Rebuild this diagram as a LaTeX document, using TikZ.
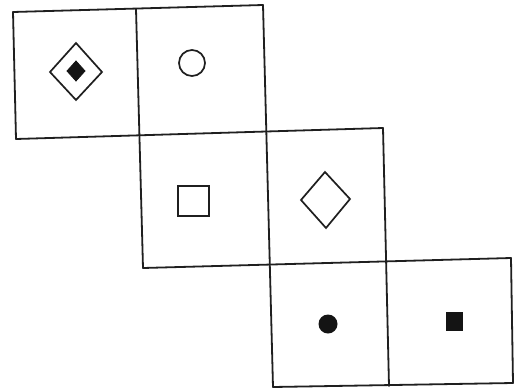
\documentclass[tikz,border=0pt]{standalone}
\begin{document}
\begin{tikzpicture}[x=1pt,y=-1pt,
  edge/.style={line width=1.8pt,draw=black!88,line cap=round,line join=miter},
  glyph/.style={line width=1.7pt,draw=black!88},
  blob/.style={fill=black!92,draw=black!92,line width=0.8pt}]
\useasboundingbox[fill=white] (0,0) rectangle (514,389);
% grid corner coordinates
\coordinate (a1) at (13,12);  \coordinate (a2) at (16,139);
\coordinate (b1) at (136,9);  \coordinate (b2) at (143,268);
\coordinate (c1) at (263,5);  \coordinate (c2) at (273,387);
\coordinate (d1) at (383,128); \coordinate (d2) at (389,386);
\coordinate (e1) at (511,258); \coordinate (e2) at (513,383);
\coordinate (h1) at (16,139); \coordinate (h2) at (383,128);
\coordinate (g1) at (143,268); \coordinate (g2) at (511,258);
\coordinate (f1) at (273,387); \coordinate (f2) at (513,383);
% outlines
\draw[edge] (a1) -- (c1);
\draw[edge] (a1) -- (a2);
\draw[edge] (b1) -- (b2);
\draw[edge] (c1) -- (c2);
\draw[edge] (d1) -- (d2);
\draw[edge] (e1) -- (e2);
\draw[edge] (h1) -- (h2);
\draw[edge] (g1) -- (g2);
\draw[edge] (f1) -- (f2);
% face 1: diamond with dark inner diamond
\draw[glyph] (76,43) -- (102,72) -- (76,100) -- (50,72) -- cycle;
\draw[blob] (76,61) -- (85,71) -- (76,81) -- (67,71) -- cycle;
% face 2: circle
\draw[glyph] (192,63) circle[radius=13];
% face 3: square
\draw[glyph] (178,186) rectangle (209,216);
% face 4: diamond
\draw[glyph] (325,172) -- (350,199) -- (326,228) -- (301,200) -- cycle;
% face 5: dot
\fill[black!92] (328,324) circle[radius=9.5];
% face 6: filled square
\fill[black!92] (446,312) rectangle (463,331);
\end{tikzpicture}
\end{document}
